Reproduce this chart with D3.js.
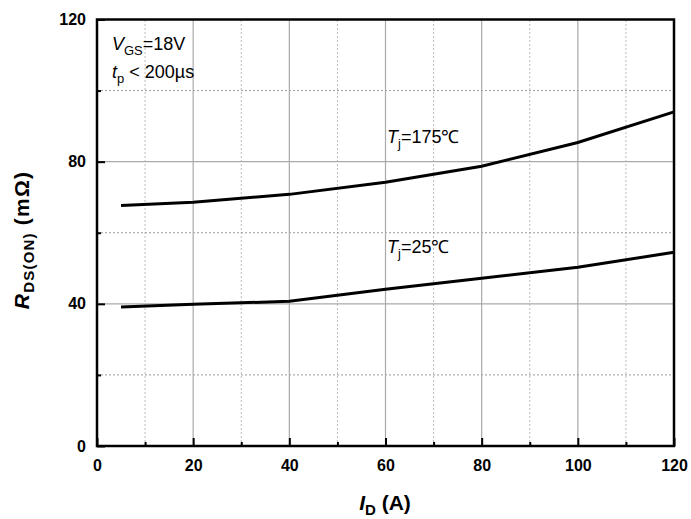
<!DOCTYPE html>
<html>
<head>
<meta charset="utf-8">
<script src="https://cdn.jsdelivr.net/npm/d3@7"></script>
<style>
  html, body { margin: 0; padding: 0; background: #fff; }
  svg { display: block; font-family: "Liberation Sans", Arial, sans-serif; }
</style>
</head>
<body>
<svg id="chart" width="691" height="519"></svg>
<script>
// Drain current (A)
const currentA = [5, 20, 40, 60, 80, 100, 120];
// On-resistance (mΩ) at two junction temperatures
const rdsTj175 = [67.7, 68.6, 70.8, 74.2, 78.7, 85.4, 94.0];
const rdsTj25 = [39.1, 39.9, 40.7, 44.1, 47.2, 50.3, 54.5];
const xTicks = [0, 20, 40, 60, 80, 100, 120];
const yTicks = [0, 40, 80, 120];

const svg = d3.select("#chart");
const margin = { left: 97, right: 17, top: 19.5, bottom: 73 };
const W = 691, H = 519;

const x = d3.scaleLinear().domain([0, 120]).range([margin.left, W - margin.right]);
const y = d3.scaleLinear().domain([0, 120]).range([H - margin.bottom, margin.top]);

// minor grid (dotted)
const g = svg.append("g");
g.selectAll("line.vminor").data(d3.range(10, 120, 20)).join("line")
  .attr("x1", d => x(d)).attr("x2", d => x(d))
  .attr("y1", y(0)).attr("y2", y(120))
  .attr("stroke", "#bbb").attr("stroke-width", 1).attr("stroke-dasharray", "2,2");
g.selectAll("line.hminor").data([20, 60, 100]).join("line")
  .attr("y1", d => y(d)).attr("y2", d => y(d))
  .attr("x1", x(0)).attr("x2", x(120))
  .attr("stroke", "#999").attr("stroke-width", 1).attr("stroke-dasharray", "2,2");
// major grid (solid)
g.selectAll("line.vmajor").data([20, 40, 60, 80, 100]).join("line")
  .attr("x1", d => x(d)).attr("x2", d => x(d))
  .attr("y1", y(0)).attr("y2", y(120))
  .attr("stroke", "#aaa").attr("stroke-width", 1.2);
g.selectAll("line.hmajor").data([40, 80]).join("line")
  .attr("y1", d => y(d)).attr("y2", d => y(d))
  .attr("x1", x(0)).attr("x2", x(120))
  .attr("stroke", "#aaa").attr("stroke-width", 1.2);

// axes with inward ticks
const xAxis = d3.axisBottom(x).tickValues(xTicks).tickSize(-8).tickPadding(14).tickFormat(d3.format("d"));
const xMinor = d3.axisBottom(x).tickValues(d3.range(10, 120, 20)).tickSize(-4).tickFormat("");
const yAxis = d3.axisLeft(y).tickValues(yTicks).tickSize(-8).tickPadding(11).tickFormat(d3.format("d"));
const yMinor = d3.axisLeft(y).tickValues([20, 60, 100]).tickSize(-4).tickFormat("");

function styleAxis(sel) {
  sel.select(".domain").remove();
  sel.selectAll(".tick line").attr("stroke", "#000").attr("stroke-width", 2);
  sel.selectAll(".tick text").attr("fill", "#000").style("font-size", "16px").style("font-weight", "bold")
    .style("font-family", "'Liberation Sans', Arial, sans-serif");
}
svg.append("g").attr("transform", `translate(0,${y(0)})`).call(xAxis).call(styleAxis);
svg.append("g").attr("transform", `translate(0,${y(0)})`).call(xMinor).call(styleAxis);
svg.append("g").attr("transform", `translate(${x(0)},0)`).call(yAxis).call(styleAxis);
svg.append("g").attr("transform", `translate(${x(0)},0)`).call(yMinor).call(styleAxis);

// frame
svg.append("rect")
  .attr("x", x(0)).attr("y", y(120))
  .attr("width", x(120) - x(0)).attr("height", y(0) - y(120))
  .attr("fill", "none").attr("stroke", "#000").attr("stroke-width", 2.5);

// curves
const line = d3.line().x((d, i) => x(currentA[i])).y(d => y(d));
[rdsTj175, rdsTj25].forEach(series => {
  svg.append("path").datum(series)
    .attr("d", line)
    .attr("fill", "none").attr("stroke", "#000").attr("stroke-width", 3);
});

// text helpers
function subText(px, py, main, sub, rest, size) {
  const t = svg.append("text").attr("x", px).attr("y", py)
    .style("font-size", size + "px").attr("fill", "#000");
  t.append("tspan").text(main).style("font-style", "italic");
  t.append("tspan").text(sub).attr("dy", 5).style("font-size", (size * 0.72) + "px");
  t.append("tspan").text(rest).attr("dy", -5);
  return t;
}
subText(112, 50, "V", "GS", "=18V", 18);
subText(112, 78, "t", "p", " < 200µs", 18);
subText(387, 143, "T", "j", "=175℃", 18);
subText(387, 253, "T", "j", "=25℃", 18);

// axis titles
const xt = svg.append("text").attr("x", 385).attr("y", 510).attr("text-anchor", "middle")
  .style("font-size", "21px").style("font-weight", "bold");
xt.append("tspan").text("I").style("font-style", "italic");
xt.append("tspan").text("D").attr("dy", 5).style("font-size", "15px");
xt.append("tspan").text(" (A)").attr("dy", -5);

const yt = svg.append("text").attr("transform", `translate(29,240) rotate(-90)`).attr("text-anchor", "middle")
  .style("font-size", "21px").style("font-weight", "bold").style("letter-spacing", "1.2px");
yt.append("tspan").text("R").style("font-style", "italic");
yt.append("tspan").text("DS(ON)").attr("dy", 5).style("font-size", "15px");
yt.append("tspan").text(" (mΩ)").attr("dy", -5);
</script>
</body>
</html>
